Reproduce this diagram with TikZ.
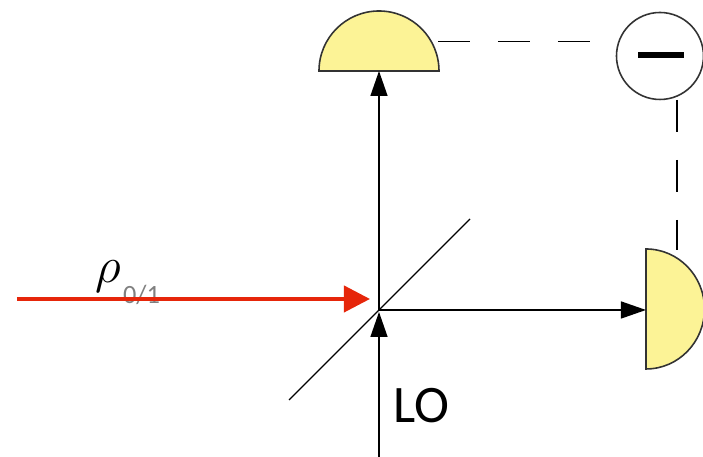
\documentclass[tikz,border=0pt]{standalone}
\usepackage{fontspec}
\setmainfont{Carlito}
\usetikzlibrary{arrows.meta}
\definecolor{detyellow}{RGB}{252,243,150}
\definecolor{beamred}{RGB}{230,38,10}
\tikzset{
beam/.style={line width=0.4pt,-{Triangle[length=0.25cm,width=0.17cm]}},
wire/.style={line width=0.4pt,dash pattern=on 0.32cm off 0.28cm},
detector/.style={draw=black!80,line width=0.45pt,fill=detyellow}
}
\begin{document}
\begin{tikzpicture}
\useasboundingbox (0,0) rectangle (7.03,4.57);

% Labels
\node (rho) at (1.08,1.80) {\fontsize{13.5}{14}\selectfont$\rho$};
\node[text=black!50] (sub) at (1.415,1.625) {\fontsize{7.5}{8}\selectfont 0/1};
\node (lo) at (4.21,0.51) {\fontsize{15}{15}\selectfont LO};

% Points
\coordinate (bs) at (3.79,1.47);
\coordinate (bsa) at (2.89,0.57);
\coordinate (bsb) at (4.70,2.38);
\coordinate (lostart) at (3.79,0);
\coordinate (lotip) at (3.79,1.45);
\coordinate (uptip) at (3.79,3.86);
\coordinate (righttip) at (6.46,1.47);
\coordinate (sigstart) at (0.17,1.58);
\coordinate (sigtip) at (3.70,1.58);
\coordinate (wirea) at (4.38,4.155);
\coordinate (wireb) at (6.16,4.155);
\coordinate (wirec) at (6.77,3.57);
\coordinate (wired) at (6.77,2.07);

% Detectors
\draw[detector] (3.19,3.86) arc (180:0:0.60) -- cycle;
\draw[detector] (6.46,2.08) arc (90:-90:0.585 and 0.60) -- cycle;

% Subtractor
\node[circle,draw=black!80,line width=0.45pt,fill=white,minimum size=0.87cm,inner sep=0pt] (diff) at (6.60,4.01) {};
\node[fill=black,minimum width=0.46cm,minimum height=0.06cm,inner sep=0pt] (bar) at (6.61,4.02) {};

% Optics
\draw[line width=0.35pt] (bsa) -- (bsb);
\draw[beam] (lostart) -- (lotip);
\draw[beam] (bs) -- (uptip);
\draw[beam] (bs) -- (righttip);
\draw[wire] (wirea) -- (wireb);
\draw[wire] (wirec) -- (wired);

% Signal
\draw[beamred,line width=1.15pt,-{Triangle[length=0.26cm,width=0.26cm]}] (sigstart) -- (sigtip);

\end{tikzpicture}
\end{document}
